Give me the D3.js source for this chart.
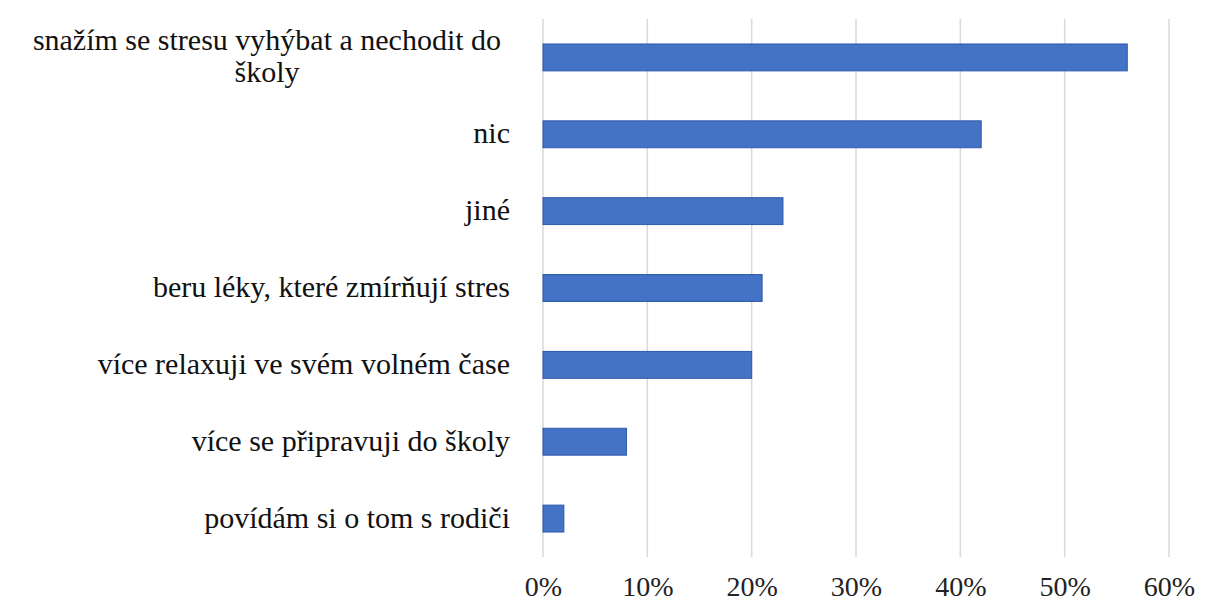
<!DOCTYPE html>
<html>
<head>
<meta charset="utf-8">
<script src="https://cdn.jsdelivr.net/npm/d3@7"></script>
<style>
  body { margin: 0; background: #fff; }
  svg { display: block; }
  svg text { font-family: "Liberation Serif", "Times New Roman", serif; }
</style>
</head>
<body>
<svg></svg>
<script>
// categories top to bottom, with share of respondents (%)
const categories = [
  ["snažím se stresu vyhýbat a nechodit do", "školy"],
  ["nic"],
  ["jiné"],
  ["beru léky, které zmírňují stres"],
  ["více relaxuji ve svém volném čase"],
  ["více se připravuji do školy"],
  ["povídám si o tom s rodiči"]
];
const values = [56, 42, 23, 21, 20, 8, 2];
const tickValues = [0, 10, 20, 30, 40, 50, 60];

const width = 1206, height = 605;
const svg = d3.select("svg").attr("width", width).attr("height", height);

const x = d3.scaleLinear().domain([0, 60]).range([543, 1169]);
const y = d3.scaleBand()
  .domain(d3.range(categories.length))
  .range([19, 557])
  .paddingInner(0.65)
  .paddingOuter(0.325);

// vertical gridlines
svg.append("g")
  .selectAll("line")
  .data(tickValues)
  .enter().append("line")
  .attr("x1", d => x(d)).attr("x2", d => x(d))
  .attr("y1", 19).attr("y2", 557)
  .attr("stroke", "#d9d9d9")
  .attr("stroke-width", 1.5);

// bars
svg.append("g")
  .selectAll("rect")
  .data(values)
  .enter().append("rect")
  .attr("x", x(0))
  .attr("y", (d, i) => y(i))
  .attr("width", d => x(d) - x(0))
  .attr("height", y.bandwidth())
  .attr("fill", "#4472c4")
  .attr("stroke", "#2f58a8")
  .attr("stroke-width", 1);

// x axis tick labels
const xAxis = svg.append("g")
  .attr("transform", "translate(0, 557)")
  .call(d3.axisBottom(x).tickValues(tickValues).tickFormat(d => d + "%").tickSize(0).tickPadding(19));
xAxis.select(".domain").remove();
xAxis.selectAll("text")
  .attr("font-family", null)
  .attr("font-size", 28)
  .attr("fill", "#222");

// category labels, multi-line ones centred like the original
const labels = svg.append("g")
  .selectAll("text")
  .data(categories)
  .enter().append("text")
  .attr("font-size", 30)
  .attr("fill", "#111")
  .attr("text-anchor", d => d.length > 1 ? "middle" : "end")
  .attr("x", d => d.length > 1 ? 267 : 510)
  .attr("y", (d, i) => y(i) + y.bandwidth() / 2);

labels.each(function(d) {
  const t = d3.select(this);
  const lh = 32;
  const off = -(d.length - 1) * lh / 2;
  d.forEach((line, j) => {
    t.append("tspan")
      .attr("x", t.attr("x"))
      .attr("dy", j === 0 ? off + 9 : lh)
      .text(line);
  });
});
</script>
</body>
</html>
